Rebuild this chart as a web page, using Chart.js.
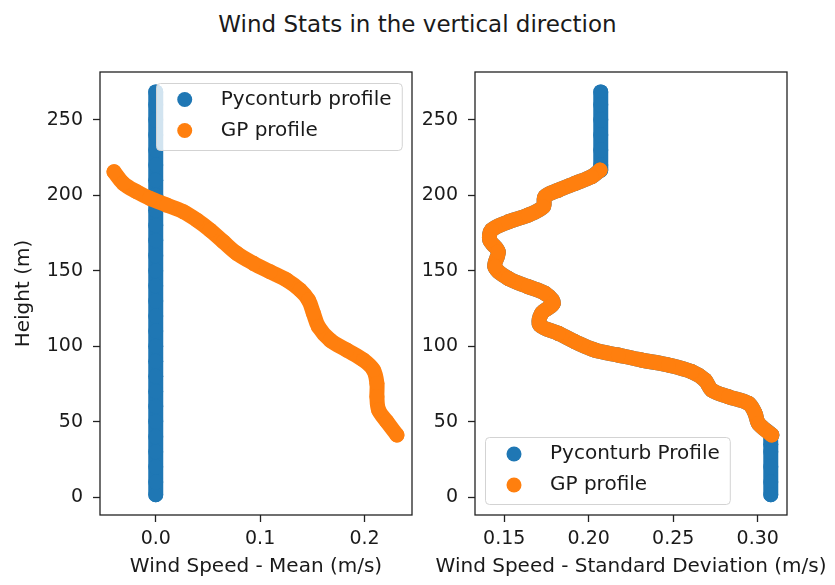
<!DOCTYPE html>
<html>
<head>
<meta charset="utf-8">
<script src="https://cdn.jsdelivr.net/npm/chart.js@4.4.1/dist/chart.umd.min.js"></script>
<style>
  html, body { margin: 0; padding: 0; background: #fff; }
  body { width: 835px; height: 585px; position: relative; overflow: hidden; font-family: 'DejaVu Sans', sans-serif; }
  #titulo { position: absolute; left: 0; top: 11px; width: 835px; text-align: center; font-size: 23px; line-height: 27px; color: #1a1a1a; }
  .caja { position: absolute; top: 0; }
  #cajaMedia { left: 0; }
  #cajaDesv  { left: 420px; }
</style>
</head>
<body>
<div id="titulo">Wind Stats in the vertical direction</div>
<div class="caja" id="cajaMedia"><canvas id="grafMedia" width="420" height="585"></canvas></div>
<div class="caja" id="cajaDesv"><canvas id="grafDesv" width="415" height="585"></canvas></div>
<script>
// alturas (m) y valores
const ticksAltura = [0, 50, 100, 150, 200, 250];
const ticksMedia  = [0.0, 0.1, 0.2];
const ticksDesv   = [0.15, 0.20, 0.25, 0.30];

// Pyconturb: media constante en 0
const alturaPyc = [1.5, 10, 20, 30, 40, 50, 60, 70, 80, 90, 100, 110, 120, 130, 140,
                   150, 160, 170, 180, 190, 200, 210, 220, 230, 240, 250, 260, 268.5];
const mediaPyc  = [0, 0, 0, 0, 0, 0, 0, 0, 0, 0, 0, 0, 0, 0, 0,
                   0, 0, 0, 0, 0, 0, 0, 0, 0, 0, 0, 0, 0];

// GP: media
const alturaGPMedia = [215.6, 207.9, 202.3, 197.9, 193.5, 189.1, 183.6, 176.9, 169.2, 161.5, 154.9, 149.3, 143.8,
                       137.2, 130.6, 121.7, 112.9, 104.0, 97.4, 90.8, 84.2, 75.3, 66.5, 57.7, 49.9, 41.1];
const mediaGP       = [-0.0400, -0.0311, -0.0182, -0.0055, 0.0105, 0.0265, 0.0393, 0.0521, 0.0648, 0.0777, 0.0936, 0.1096, 0.1256,
                       0.1383, 0.1463, 0.1511, 0.1559, 0.1671, 0.1831, 0.1990, 0.2086, 0.2119, 0.2119, 0.2135, 0.2215, 0.2311];

// GP: desviacion estandar
const alturaGPDesv = [216.7, 212.3, 207.9, 203.4, 199.0, 192.4, 186.9, 182.4, 176.9, 170.3, 162.6, 152.6, 144.9, 139.4, 135.0, 128.4,
                      121.7, 114.0, 108.5, 102.9, 97.4, 94.1, 90.8, 87.5, 83.0, 77.5, 70.9, 66.5, 62.1, 55.5, 48.8, 41.1];
const desvGP       = [0.2067, 0.2017, 0.1919, 0.1820, 0.1741, 0.1731, 0.1642, 0.1524, 0.1425, 0.1415, 0.1464, 0.1445, 0.1524, 0.1642, 0.1741, 0.1790,
                      0.1721, 0.1711, 0.1820, 0.1919, 0.2037, 0.2175, 0.2313, 0.2471, 0.2610, 0.2688, 0.2728, 0.2826, 0.2945, 0.2984, 0.3004, 0.3083];

// Pyconturb: desviacion (tramo alto, tramo bajo; el medio sigue al GP)
const alturaPycSup = [268.5, 260, 250, 240, 230, 220, 216.7];
const desvPycSup   = [0.2071, 0.2071, 0.2071, 0.2071, 0.2071, 0.2071, 0.2071];
const alturaPycInf = [41.1, 35, 30, 20, 10, 1.5];
const desvPycInf   = [0.3077, 0.3077, 0.3077, 0.3077, 0.3077, 0.3077];

const AZUL    = '#1f77b4';
const NARANJA = '#ff7f0e';
const TEXTO   = '#1a1a1a';
const FUENTE  = "'DejaVu Sans', sans-serif";

const puntos = (xs, ys) => xs.map((x, i) => ({ x, y: ys[i] }));

const serie = (label, data, color, orden) => ({
  label, data, order: orden,
  backgroundColor: color, borderColor: color,
  showLine: true, borderWidth: 15, borderCapStyle: 'round', borderJoinStyle: 'round', tension: 0.35,
  pointRadius: 7.5, pointHoverRadius: 7.5, pointBorderWidth: 0, pointBackgroundColor: color
});

// caja completa alrededor del area
const marco = {
  id: 'marco',
  afterDraw(chart) {
    const { ctx, chartArea: a } = chart;
    ctx.save();
    ctx.strokeStyle = '#222';
    ctx.lineWidth = 1.3;
    ctx.strokeRect(a.left, a.top, a.right - a.left, a.bottom - a.top);
    ctx.restore();
  }
};

// titulo del eje x sin recorte de ancho
const tituloX = {
  id: 'tituloX',
  afterDraw(chart, args, opts) {
    const { ctx, chartArea: a } = chart;
    ctx.save();
    ctx.font = `20px ${FUENTE}`;
    ctx.fillStyle = TEXTO;
    ctx.textAlign = 'center';
    ctx.textBaseline = 'middle';
    ctx.fillText(opts.texto, (a.left + a.right) / 2, 567);
    ctx.restore();
  }
};

// leyenda dentro del area, al estilo matplotlib
const leyendaDentro = {
  id: 'leyendaDentro',
  afterDatasetsDraw(chart, args, opts) {
    const { ctx, chartArea: a } = chart;
    ctx.save();
    ctx.font = `20px ${FUENTE}`;
    const items = chart.data.datasets.map(d => ({ texto: d.label, color: d.backgroundColor }));
    const ancho = 65 + Math.max(...items.map(it => ctx.measureText(it.texto).width)) + 10;
    const alto  = 67;
    const x = opts.esquina === 'arriba' ? a.right - 10.5 - ancho : a.left + 10;
    const y = opts.esquina === 'arriba' ? a.top + 10.5 : a.bottom - 11 - alto;
    ctx.beginPath();
    ctx.roundRect(Math.round(x) + 0.5, Math.round(y) + 0.5, ancho, alto, 4);
    ctx.fillStyle = 'rgba(255,255,255,0.8)';
    ctx.fill();
    ctx.strokeStyle = '#d3d3d3';
    ctx.lineWidth = 1;
    ctx.stroke();
    items.forEach((it, i) => {
      const cy = y + 17 + i * 31;
      ctx.beginPath();
      ctx.arc(x + 29, cy, 7.5, 0, Math.PI * 2);
      ctx.fillStyle = it.color;
      ctx.fill();
      ctx.fillStyle = TEXTO;
      ctx.textBaseline = 'middle';
      ctx.fillText(it.texto, x + 65, cy);
    });
    ctx.restore();
  }
};

const ejeY = (anchoEje, titulo) => ({
  type: 'linear', min: -11.9, max: 281.7,
  afterBuildTicks: s => { s.ticks = ticksAltura.map(v => ({ value: v })); },
  afterFit: s => { s.width = anchoEje; },
  border: { display: false },
  grid: { display: true, drawOnChartArea: false, drawTicks: true, tickLength: 7, tickColor: '#222', tickWidth: 1.3 },
  ticks: { autoSkip: false, padding: 10, color: TEXTO, font: { family: FUENTE, size: 19 }, callback: v => String(v) },
  title: { display: !!titulo, text: titulo || '', color: TEXTO, font: { family: FUENTE, size: 20 }, padding: { top: 12, bottom: 0 } }
});

const ejeX = (min, max, ticksX, dec) => ({
  type: 'linear', min, max,
  afterBuildTicks: s => { s.ticks = ticksX.map(v => ({ value: v })); },
  afterFit: s => { s.height = 70; },
  border: { display: false },
  grid: { display: true, drawOnChartArea: false, drawTicks: true, tickLength: 7, tickColor: '#222', tickWidth: 1.3 },
  ticks: { autoSkip: false, maxRotation: 0, padding: 6, color: TEXTO, font: { family: FUENTE, size: 19 }, callback: v => v.toFixed(dec) },
  title: { display: false }
});

new Chart(document.getElementById('grafMedia'), {
  type: 'scatter',
  data: {
    datasets: [
      serie('Pyconturb profile', puntos(mediaPyc, alturaPyc), AZUL, 1),
      serie('GP profile', puntos(mediaGP, alturaGPMedia), NARANJA, 0)
    ]
  },
  options: {
    responsive: false, animation: false, devicePixelRatio: 1,
    layout: { padding: { top: 72, right: 8, left: 0, bottom: 0 } },
    scales: {
      x: ejeX(-0.0534, 0.2455, ticksMedia, 1),
      y: ejeY(100, 'Height (m)')
    },
    plugins: {
      legend: { display: false }, tooltip: { enabled: false },
      leyendaDentro: { esquina: 'arriba' },
      tituloX: { texto: 'Wind Speed - Mean (m/s)' }
    }
  },
  plugins: [leyendaDentro, marco, tituloX]
});

new Chart(document.getElementById('grafDesv'), {
  type: 'scatter',
  data: {
    datasets: [
      serie('Pyconturb Profile',
        puntos([...desvPycSup, ...desvGP, ...desvPycInf], [...alturaPycSup, ...alturaGPDesv, ...alturaPycInf]), AZUL, 1),
      serie('GP profile', puntos(desvGP, alturaGPDesv), NARANJA, 0)
    ]
  },
  options: {
    responsive: false, animation: false, devicePixelRatio: 1,
    layout: { padding: { top: 72, right: 48, left: 0, bottom: 0 } },
    scales: {
      x: ejeX(0.1327, 0.3173, ticksDesv, 2),
      y: ejeY(55, null)
    },
    plugins: {
      legend: { display: false }, tooltip: { enabled: false },
      leyendaDentro: { esquina: 'abajo' },
      tituloX: { texto: 'Wind Speed - Standard Deviation (m/s)' }
    }
  },
  plugins: [leyendaDentro, marco, tituloX]
});
</script>
</body>
</html>
